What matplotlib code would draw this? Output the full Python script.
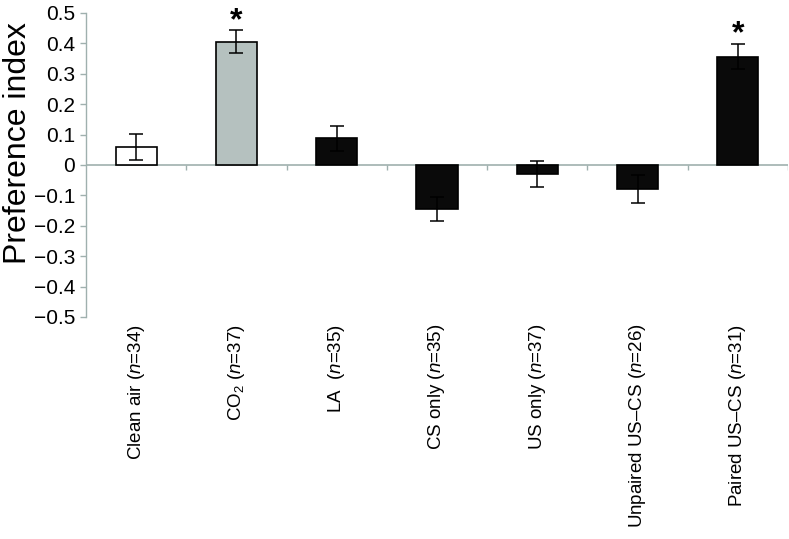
import numpy as np
import matplotlib.pyplot as plt
from matplotlib.ticker import FuncFormatter

plt.rcParams['font.family'] = ['Liberation Sans', 'DejaVu Sans']
plt.rcParams['mathtext.fontset'] = 'custom'
plt.rcParams['mathtext.rm'] = 'Liberation Sans'
plt.rcParams['mathtext.it'] = 'Liberation Sans:italic'

# Data
groups = ['Clean air ($n$=34)', 'CO$_2$ ($n$=37)', 'LA  ($n$=35)', 'CS only ($n$=35)',
          'US only ($n$=37)', 'Unpaired US\u2013CS ($n$=26)', 'Paired US\u2013CS ($n$=31)']
means = [0.059, 0.406, 0.088, -0.145, -0.030, -0.079, 0.356]
sems = [0.043, 0.037, 0.041, 0.041, 0.042, 0.047, 0.042]
significant = [False, True, False, False, False, False, True]
bar_colors = ['white', '#b5c1bf', '#0a0a0a', '#0a0a0a', '#0a0a0a', '#0a0a0a', '#0a0a0a']

axis_grey = '#9fb0ae'

fig = plt.figure(figsize=(7.89, 5.39), dpi=100)
ax = fig.add_axes([0.109, 0.412, 0.8897, 0.564])

x = np.arange(len(groups))
ax.bar(x, means, width=0.41, color=bar_colors, edgecolor='black', linewidth=1.2, zorder=3)
ax.errorbar(x, means, yerr=sems, fmt='none', ecolor='black', elinewidth=1.1,
            capsize=5, capthick=1.1, zorder=4)

# significance stars
for xi, m, s, sig in zip(x, means, sems, significant):
    if sig:
        ax.annotate('*', (xi, m + s), xytext=(0, -4), textcoords='offset points',
                    ha='center', va='bottom', fontsize=23, fontweight='bold')

# zero line with category ticks
ax.axhline(0, color=axis_grey, linewidth=1.2, zorder=2)
bounds = np.arange(len(groups)) + 0.5
ax.vlines(bounds, -0.016, 0, color=axis_grey, linewidth=1.0, zorder=2)

ax.set_xlim(-0.5, len(groups) - 0.5)
ax.set_ylim(-0.5, 0.5)
ax.set_yticks(np.arange(-0.5, 0.51, 0.1))
ax.yaxis.set_major_formatter(FuncFormatter(lambda v, p: '0' if abs(v) < 1e-9 else f'{v:.1f}'.replace('-', '\u2212')))
ax.tick_params(axis='y', direction='out', length=4, width=1.0, color=axis_grey,
               labelsize=15, pad=4)

ax.set_xticks(x)
ax.set_xticklabels(groups, rotation=90, va='top', fontsize=13.5)
ax.tick_params(axis='x', length=0, pad=5)

for side in ['top', 'right', 'bottom']:
    ax.spines[side].set_visible(False)
ax.spines['left'].set_color(axis_grey)
ax.spines['left'].set_linewidth(1.0)

ax.set_ylabel('Preference index', fontsize=23)
ax.yaxis.set_label_coords(-0.076, 0.572)

fig.savefig('out.png', dpi=100)
